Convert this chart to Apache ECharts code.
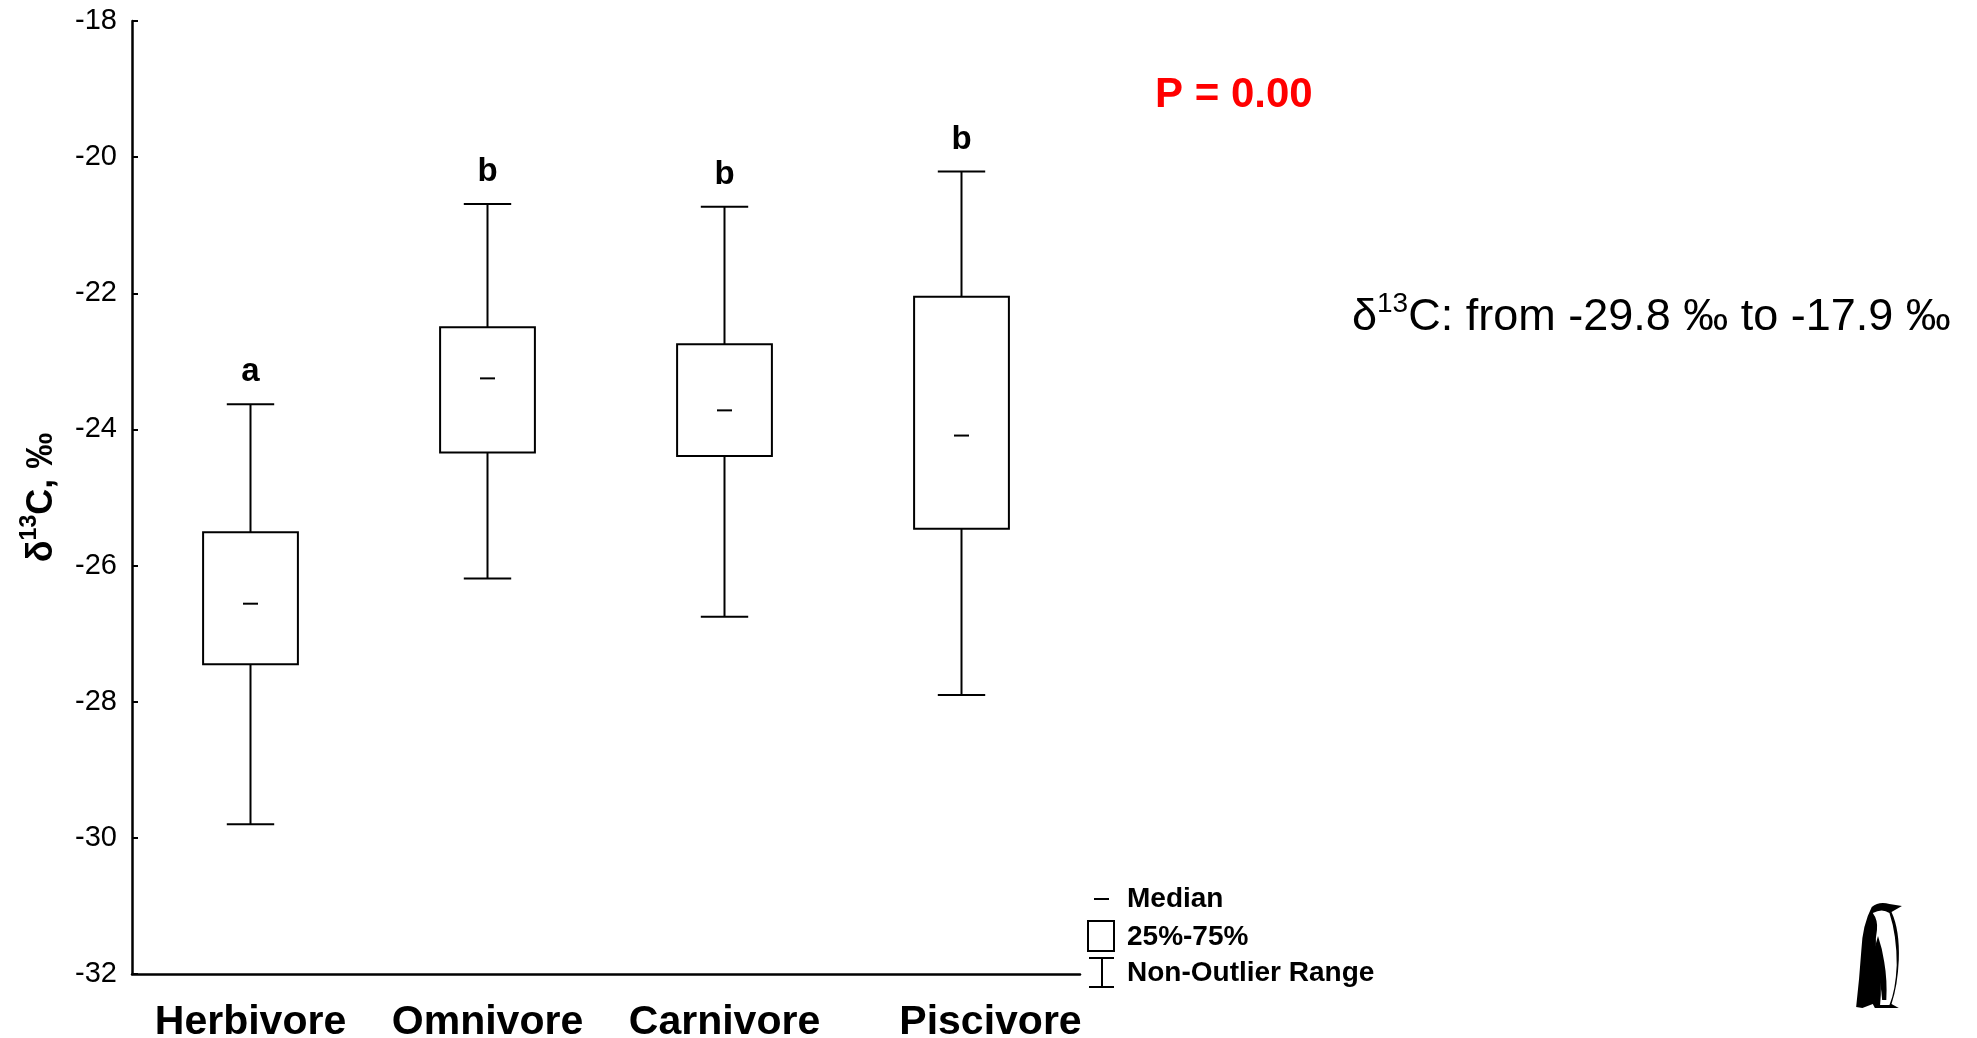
<!DOCTYPE html>
<html>
<head>
<meta charset="utf-8">
<script src="https://cdn.jsdelivr.net/npm/echarts@6.0.0/dist/echarts.min.js"></script>
<style>
  html, body { margin: 0; padding: 0; background: #fff; }
  #boxchart { width: 1977px; height: 1038px; }
</style>
</head>
<body>
<div id="boxchart"></div>
<script>
// feeding groups
var categories = ['Herbivore', 'Omnivore', 'Carnivore', 'Piscivore']
// [min, q1, median, q3, max] (non-outlier range + quartiles), δ13C ‰
var herbivore = [-29.80, -27.45, -26.56, -25.51, -23.63]
var omnivore = [-26.19, -24.34, -23.25, -22.50, -20.69]
var carnivore = [-26.75, -24.39, -23.72, -22.75, -20.73]
var piscivore = [-27.90, -25.46, -24.09, -22.05, -20.21]
// significance letters
var groupLetters = ['a', 'b', 'b', 'b']
var yTicks = { min: -32, max: -18, step: 2 }

var boxData = [herbivore, omnivore, carnivore, piscivore].map(function (s, i) {
  return [i].concat(s)
})

var FONT = '"Liberation Sans", Arial, sans-serif'

function renderBox(params, api) {
  var x = api.value(0)
  var lo = api.coord([x, api.value(1)])
  var q1 = api.coord([x, api.value(2)])
  var med = api.coord([x, api.value(3)])
  var q3 = api.coord([x, api.value(4)])
  var hi = api.coord([x, api.value(5)])
  var band = api.size([1, 0])[0]
  var bw = band * 0.4
  var cw = band * 0.2
  var mw = 15
  var cx = lo[0]
  var ls = { stroke: '#000', lineWidth: 2, fill: null }
  return {
    type: 'group',
    children: [
      { type: 'line', shape: { x1: cx, y1: hi[1], x2: cx, y2: q3[1] }, style: ls },
      { type: 'line', shape: { x1: cx, y1: q1[1], x2: cx, y2: lo[1] }, style: ls },
      { type: 'line', shape: { x1: cx - cw / 2, y1: hi[1], x2: cx + cw / 2, y2: hi[1] }, style: ls },
      { type: 'line', shape: { x1: cx - cw / 2, y1: lo[1], x2: cx + cw / 2, y2: lo[1] }, style: ls },
      { type: 'rect', shape: { x: cx - bw / 2, y: q3[1], width: bw, height: q1[1] - q3[1] }, style: { stroke: '#000', lineWidth: 2, fill: '#fff' } },
      { type: 'line', shape: { x1: cx - mw / 2, y1: med[1], x2: cx + mw / 2, y2: med[1] }, style: ls },
      {
        type: 'text',
        x: cx,
        y: hi[1] - 32,
        style: {
          text: groupLetters[params.dataIndex],
          font: 'bold 33px ' + FONT,
          fill: '#000',
          align: 'center',
          verticalAlign: 'middle'
        }
      }
    ]
  }
}

// little penguin silhouette, bottom right
var penguinSvg = '<svg xmlns="http://www.w3.org/2000/svg" width="50" height="110" viewBox="0 0 50 110">' +
  '<path fill="#000" d="M48 6 L36 4 Q26 1 19 7 Q10 25 9 50 Q7 80 4 107 L10 108 L20 104 L22 108 L45 108 L38 104 Q44 85 45 60 Q46 30 38 12 Z"/>' +
  '<path fill="#fff" d="M20 13 Q29 8 36 13 Q43 35 43 65 Q42 90 36 105 L27 105 Q29 85 26 65 Q21 45 24 30 Q25 20 20 13 Z"/>' +
  '<path fill="#000" d="M25 36 Q20 50 24 68 Q28 85 29 100 L33 100 Q34 80 31 62 Q29 48 25 36 Z"/>' +
  '</svg>'

var myEcharts = echarts.init(document.getElementById('boxchart'))
myEcharts.setOption({
  backgroundColor: '#fff',
  animation: false,
  grid: {
    left: 132,
    right: 897,
    top: 21,
    bottom: 64,
    containLabel: false,
    outerBoundsMode: 'none'
  },
  xAxis: {
    type: 'category',
    data: categories,
    axisLine: { lineStyle: { color: '#000', width: 2.5 } },
    axisTick: { inside: true, alignWithLabel: true, length: 6, lineStyle: { color: '#000', width: 2 } },
    axisLabel: {
      interval: 0,
      hideOverlap: false,
      color: '#000',
      margin: 28,
      fontFamily: FONT,
      fontWeight: 'bold',
      fontSize: 41,
      formatter: function (v) {
        // Piscivore label sits a bit right of its tick in the original
        return v === 'Piscivore' ? '{shift|' + v + '}' : v
      },
      rich: {
        shift: { fontFamily: FONT, fontWeight: 'bold', fontSize: 41, color: '#000', padding: [0, 0, 0, 58] }
      }
    }
  },
  yAxis: {
    type: 'value',
    min: yTicks.min,
    max: yTicks.max,
    interval: yTicks.step,
    name: '{t|δ}{s|13}{t|C, ‰}',
    nameLocation: 'middle',
    nameGap: 72,
    nameTextStyle: {
      color: '#000',
      rich: {
        t: { fontFamily: FONT, fontWeight: 'bold', fontSize: 36, color: '#000', verticalAlign: 'bottom', lineHeight: 42 },
        s: { fontFamily: FONT, fontWeight: 'bold', fontSize: 23, color: '#000', verticalAlign: 'top', lineHeight: 42 }
      }
    },
    axisLine: { show: true, lineStyle: { color: '#000', width: 2.5 } },
    axisTick: { show: true, inside: true, length: 6, lineStyle: { color: '#000', width: 2 } },
    splitLine: { show: false },
    axisLabel: { color: '#000', fontFamily: FONT, fontSize: 29, margin: 15 }
  },
  graphic: [
    {
      type: 'text', x: 1155, y: 95,
      style: { text: 'P = 0.00', font: 'bold 42px ' + FONT, fill: '#ff0000', verticalAlign: 'middle' }
    },
    {
      type: 'text', x: 1352, y: 315,
      style: {
        text: '{t|δ}{s|13}{t|C: from -29.8 ‰ to -17.9 ‰}',
        verticalAlign: 'middle',
        rich: {
          t: { font: '45px ' + FONT, fill: '#000', verticalAlign: 'bottom', lineHeight: 50 },
          s: { font: '28px ' + FONT, fill: '#000', verticalAlign: 'top', lineHeight: 50 }
        }
      }
    },
    // legend
    { type: 'line', shape: { x1: 1094, y1: 899, x2: 1109, y2: 899 }, style: { stroke: '#000', lineWidth: 2 } },
    { type: 'rect', shape: { x: 1088, y: 921, width: 26, height: 30 }, style: { stroke: '#000', lineWidth: 2, fill: null } },
    { type: 'line', shape: { x1: 1089, y1: 958, x2: 1114, y2: 958 }, style: { stroke: '#000', lineWidth: 2 } },
    { type: 'line', shape: { x1: 1102, y1: 958, x2: 1102, y2: 987 }, style: { stroke: '#000', lineWidth: 2 } },
    { type: 'line', shape: { x1: 1089, y1: 987, x2: 1114, y2: 987 }, style: { stroke: '#000', lineWidth: 2 } },
    { type: 'text', x: 1127, y: 899, style: { text: 'Median', font: 'bold 28px ' + FONT, fill: '#000', verticalAlign: 'middle' } },
    { type: 'text', x: 1127, y: 937, style: { text: '25%-75%', font: 'bold 28px ' + FONT, fill: '#000', verticalAlign: 'middle' } },
    { type: 'text', x: 1127, y: 973, style: { text: 'Non-Outlier Range', font: 'bold 28px ' + FONT, fill: '#000', verticalAlign: 'middle' } },
    {
      type: 'image', x: 1852, y: 900,
      style: { image: 'data:image/svg+xml;charset=utf-8,' + encodeURIComponent(penguinSvg), width: 52, height: 110 }
    }
  ],
  series: [
    {
      type: 'custom',
      renderItem: renderBox,
      data: boxData,
      encode: { x: 0, y: [1, 2, 3, 4, 5] },
      clip: false
    }
  ]
})
</script>
</body>
</html>
